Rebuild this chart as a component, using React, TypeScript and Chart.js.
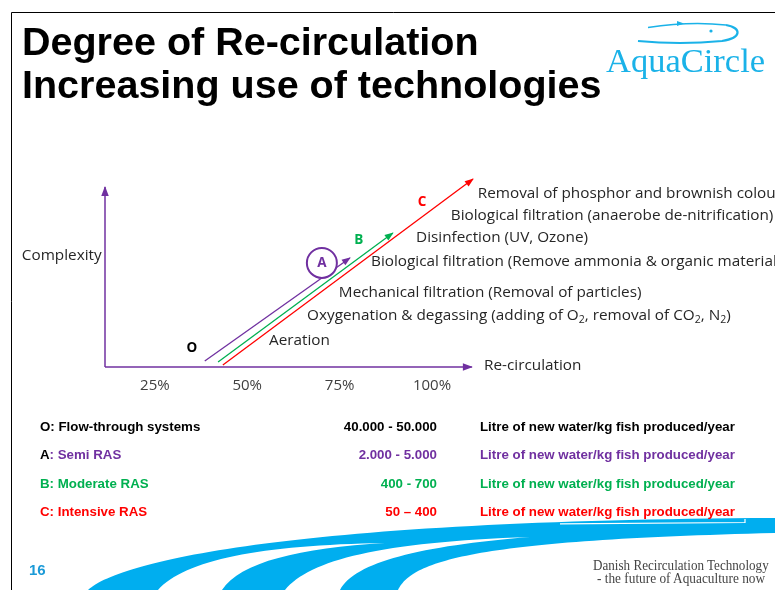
import React, { useEffect, useRef } from 'react';
import { Chart, registerables } from 'chart.js';

Chart.register(...registerables);

// ---------- data ----------
const xTicks = [25, 50, 75, 100];
const xRange = [11.5, 113];
const yRange = [0, 110];

const xAxisLine = [{ x: 11.5, y: 0 }, { x: 110.8, y: 0 }];
const yAxisLine = [{ x: 11.5, y: 0 }, { x: 11.5, y: 100 }];
const semiRAS = [{ x: 38.5, y: 3.3 }, { x: 77.8, y: 60.6 }];
const moderateRAS = [{ x: 42.1, y: 2.8 }, { x: 89.4, y: 74.4 }];
const intensiveRAS = [{ x: 43.4, y: 1.1 }, { x: 111.1, y: 104.4 }];
const circleA = [{ x: 70.2, y: 57.8 }];

const techLabels = [
  { text: 'Removal of phosphor and brownish colour', x: 112.4, y: 96.1 },
  { text: 'Biological filtration (anaerobe de-nitrification)', x: 105.1, y: 83.9 },
  { text: 'Disinfection (UV, Ozone)', x: 95.7, y: 71.7 },
  { text: 'Biological filtration (Remove ammonia & organic material)', x: 83.5, y: 58.3 },
  { text: 'Mechanical filtration (Removal of particles)', x: 74.8, y: 41.1 },
  { text: 'Oxygenation & degassing (adding of O_2, removal of CO_2, N_2)', x: 66.2, y: 28.3 },
  { text: 'Aeration', x: 55.9, y: 14.4 },
];
const axisTitles = [
  { text: 'Re-circulation', x: 114.1, y: 0.6 },
  { text: 'Complexity', x: -11.0, y: 61.7 },
];
const systemLetters = [
  { text: 'O', x: 35.0, y: 10.6 },
  { text: 'A', x: 70.2, y: 57.8 },
  { text: 'B', x: 80.2, y: 70.6 },
  { text: 'C', x: 97.3, y: 91.7 },
];

const systemCodes = ['O', 'A', 'B', 'C'];
const systemNames = [': Flow-through systems', ': Semi RAS', ': Moderate RAS', ': Intensive RAS'];
const waterUse = ['40.000 - 50.000', '2.000 - 5.000', '400 - 700', '50 \u2013 400'];
const unitText = 'Litre of new water/kg fish produced/year';

// ---------- styles ----------
const PURPLE = '#7030A0';
const GREEN = '#00B050';
const RED = '#FF0000';
const CYAN = '#00AEEF';
const letterColors = ['#000000', PURPLE, GREEN, RED];
const codeColors = ['#000000', '#000000', GREEN, RED];
const rowColors = ['#000000', PURPLE, GREEN, RED];
const LABEL_FAMILY = '"Open Sans"';
const LABEL_FONT = '15.3px ' + LABEL_FAMILY;
const TEXT_COLOR = '#262626';

function drawRich(ctx: CanvasRenderingContext2D, text: string, x: number, y: number) {
  const parts = text.split(/(_\w)/);
  let cx = x;
  for (const p of parts) {
    if (!p) continue;
    if (p[0] === '_') {
      ctx.font = '10.5px ' + LABEL_FAMILY;
      ctx.fillText(p.slice(1), cx, y + 4);
      cx += ctx.measureText(p.slice(1)).width;
      ctx.font = LABEL_FONT;
    } else {
      ctx.fillText(p, cx, y);
      cx += ctx.measureText(p).width;
    }
  }
}

const slidePlugin = {
  id: 'slide',
  beforeDraw(chart: any) {
    const ctx: CanvasRenderingContext2D = chart.ctx;
    ctx.save();
    ctx.fillStyle = '#ffffff';
    ctx.fillRect(0, 0, chart.width, chart.height);
    // slide border
    ctx.strokeStyle = '#000';
    ctx.lineWidth = 1;
    ctx.beginPath();
    ctx.moveTo(11.5, 590);
    ctx.lineTo(11.5, 12.5);
    ctx.lineTo(775, 12.5);
    ctx.stroke();
    // logo swoosh
    ctx.strokeStyle = '#1AB2E8';
    ctx.fillStyle = '#1AB2E8';
    ctx.lineWidth = 1.6;
    ctx.beginPath();
    ctx.moveTo(648, 27.5);
    ctx.quadraticCurveTo(690, 21, 726, 25);
    ctx.stroke();
    ctx.lineWidth = 2.2;
    ctx.beginPath();
    ctx.moveTo(726, 25);
    ctx.bezierCurveTo(742, 28, 742, 38, 722, 41);
    ctx.quadraticCurveTo(680, 45, 638, 41);
    ctx.stroke();
    ctx.beginPath();
    ctx.moveTo(684, 23.5);
    ctx.lineTo(677, 21);
    ctx.lineTo(677, 26);
    ctx.closePath();
    ctx.fill();
    ctx.beginPath();
    ctx.arc(711, 31, 1.6, 0, Math.PI * 2);
    ctx.fill();
    // footer swooshes
    ctx.fillStyle = CYAN;
    ctx.beginPath();
    ctx.moveTo(88, 590);
    ctx.bezierCurveTo(120, 560, 300, 520, 775, 518);
    ctx.lineTo(775, 590);
    ctx.closePath();
    ctx.fill();
    ctx.fillStyle = '#ffffff';
    ctx.beginPath();
    ctx.moveTo(158, 590);
    ctx.bezierCurveTo(185, 560, 260, 545, 385, 543);
    ctx.bezierCurveTo(300, 548, 240, 562, 222, 590);
    ctx.closePath();
    ctx.fill();
    ctx.beginPath();
    ctx.moveTo(285, 590);
    ctx.bezierCurveTo(310, 560, 380, 542, 530, 537);
    ctx.bezierCurveTo(420, 546, 355, 562, 340, 590);
    ctx.closePath();
    ctx.fill();
    ctx.beginPath();
    ctx.moveTo(398, 590);
    ctx.bezierCurveTo(412, 560, 480, 540, 775, 533);
    ctx.lineTo(775, 590);
    ctx.closePath();
    ctx.fill();
    ctx.strokeStyle = '#ffffff';
    ctx.lineWidth = 1.2;
    ctx.beginPath();
    ctx.moveTo(560, 523.8);
    ctx.quadraticCurveTo(650, 522.8, 745, 522.5);
    ctx.lineTo(745, 519);
    ctx.stroke();
    ctx.restore();
  },
  afterDatasetsDraw(chart: any) {
    const ctx: CanvasRenderingContext2D = chart.ctx;
    const xs = chart.scales.x;
    const ys = chart.scales.y;
    ctx.save();
    // arrowheads
    chart.data.datasets.forEach((ds: any, i: number) => {
      if (!ds.arrow) return;
      const pts = chart.getDatasetMeta(i).data;
      const a = pts[pts.length - 2];
      const b = pts[pts.length - 1];
      const ang = Math.atan2(b.y - a.y, b.x - a.x);
      const L = ds.arrow;
      const W = L * 0.42;
      const cos = Math.cos(ang), sin = Math.sin(ang);
      const bx = b.x - L * cos, by = b.y - L * sin;
      ctx.fillStyle = ds.borderColor;
      ctx.beginPath();
      ctx.moveTo(b.x + 1 * cos, b.y + 1 * sin);
      ctx.lineTo(bx - W * sin, by + W * cos);
      ctx.lineTo(bx + W * sin, by - W * cos);
      ctx.closePath();
      ctx.fill();
    });
    // technology labels
    ctx.font = LABEL_FONT;
    ctx.fillStyle = TEXT_COLOR;
    ctx.textBaseline = 'middle';
    ctx.textAlign = 'left';
    for (const l of techLabels) {
      drawRich(ctx, l.text, xs.getPixelForValue(l.x), ys.getPixelForValue(l.y));
    }
    for (const l of axisTitles) {
      ctx.fillText(l.text, xs.getPixelForValue(l.x), ys.getPixelForValue(l.y));
    }
    // system letters
    ctx.font = 'bold 13.5px ' + LABEL_FAMILY;
    ctx.textAlign = 'center';
    systemLetters.forEach((l, i) => {
      ctx.fillStyle = letterColors[i];
      ctx.fillText(l.text, xs.getPixelForValue(l.x), ys.getPixelForValue(l.y) + 0.5);
    });
    ctx.restore();
  },
};

function T(props: { left: number; top: number; size: number; family: string; weight?: string; color: string; children: any; width?: number; align?: string; scaleX?: number }) {
  const style: any = {
    position: 'absolute',
    left: props.left,
    top: props.top,
    fontSize: props.size,
    lineHeight: props.size + 'px',
    fontFamily: props.family,
    fontWeight: props.weight || 'normal',
    color: props.color,
    whiteSpace: 'nowrap',
  };
  if (props.width) {
    style.width = props.width;
    style.textAlign = props.align || 'left';
  }
  if (props.scaleX) {
    style.transform = `scaleX(${props.scaleX})`;
    style.transformOrigin = 'left top';
  }
  return <div style={style}>{props.children}</div>;
}

export default function App() {
  const ref = useRef<HTMLCanvasElement>(null);
  useEffect(() => {
    if (!ref.current) return;
    const chart = new Chart(ref.current, {
      type: 'scatter',
      data: {
        datasets: [
          { data: circleA, pointRadius: 15, pointStyle: 'circle', borderColor: PURPLE, borderWidth: 2, backgroundColor: '#ffffff', showLine: false, clip: false } as any,
          { data: xAxisLine, showLine: true, pointRadius: 0, borderColor: PURPLE, borderWidth: 1.5, arrow: 9, clip: false } as any,
          { data: yAxisLine, showLine: true, pointRadius: 0, borderColor: PURPLE, borderWidth: 1.5, arrow: 9, clip: false } as any,
          { data: semiRAS, showLine: true, pointRadius: 0, borderColor: PURPLE, borderWidth: 1.3, arrow: 8, clip: false } as any,
          { data: moderateRAS, showLine: true, pointRadius: 0, borderColor: GREEN, borderWidth: 1.3, arrow: 8, clip: false } as any,
          { data: intensiveRAS, showLine: true, pointRadius: 0, borderColor: RED, borderWidth: 1.3, arrow: 8, clip: false } as any,
        ],
      },
      options: {
        responsive: false,
        animation: false,
        events: [],
        layout: { padding: { left: 105, right: 295, top: 169, bottom: 185 } },
        plugins: { legend: { display: false }, tooltip: { enabled: false } },
        scales: {
          x: {
            type: 'linear',
            min: xRange[0],
            max: xRange[1],
            grid: { display: false, drawTicks: false },
            border: { display: false },
            ticks: {
              autoSkip: false,
              maxRotation: 0,
              padding: 10,
              color: '#404040',
              font: { family: LABEL_FAMILY, size: 15 },
              callback: (v: any) => v + '%',
            },
            afterBuildTicks: (s: any) => {
              s.ticks = xTicks.map((v) => ({ value: v }));
            },
          },
          y: { type: 'linear', min: yRange[0], max: yRange[1], display: false },
        },
      } as any,
      plugins: [slidePlugin as any],
    });
    return () => chart.destroy();
  }, []);

  const sans = '"Liberation Sans", Arial, sans-serif';
  const serif = '"Liberation Serif", "Times New Roman", serif';
  const rowBase = [431, 459, 488, 516];

  return (
    <div style={{ position: 'absolute', left: 0, top: 0, width: 775, height: 590, overflow: 'hidden', background: '#fff' }}>
      <canvas ref={ref} width={775} height={590} style={{ position: 'absolute', left: 0, top: 0 }} />
      <T left={22} top={21.6} size={39.5} family={sans} weight="bold" color="#000">Degree of Re-circulation</T>
      <T left={22} top={64.6} size={39.5} family={sans} weight="bold" color="#000">Increasing use of technologies</T>
      <T left={606} top={43} size={34.5} family={serif} color="#1AB2E8">AquaCircle</T>
      {systemCodes.map((c, i) => (
        <T key={'s' + i} left={40} top={rowBase[i] - 11.3} size={13.3} family={sans} weight="bold" color={rowColors[i]}>
          <span style={{ color: codeColors[i] }}>{c}</span>
          {systemNames[i]}
        </T>
      ))}
      {waterUse.map((w, i) => (
        <T key={'w' + i} left={237} width={200} align="right" top={rowBase[i] - 11.3} size={13.3} family={sans} weight="bold" color={rowColors[i]}>
          {w}
        </T>
      ))}
      {rowColors.map((col, i) => (
        <T key={'u' + i} left={480} top={rowBase[i] - 11.3} size={13.3} family={sans} weight="bold" color={col}>
          {unitText}
        </T>
      ))}
      <T left={29} top={561.7} size={15} family={sans} weight="bold" color="#1B9AD7">16</T>
      <T left={593} top={559.3} size={14} family={serif} color="#444" scaleX={0.936}>Danish Recirculation Technology</T>
      <T left={597} top={572.3} size={14} family={serif} color="#444" scaleX={0.95}>- the future of Aquaculture now</T>
    </div>
  );
}
